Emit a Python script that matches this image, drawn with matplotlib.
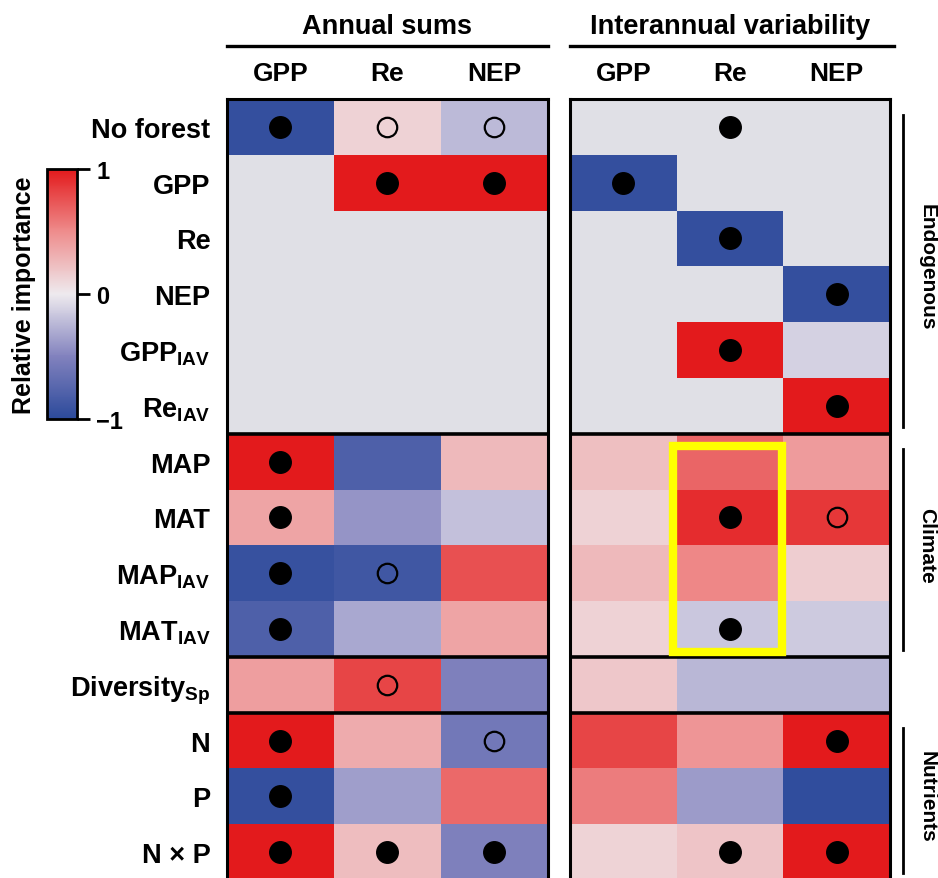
import numpy as np
import matplotlib.pyplot as plt
from matplotlib.colors import LinearSegmentedColormap
from matplotlib.patches import Rectangle
from matplotlib.lines import Line2D
from matplotlib.transforms import blended_transform_factory

plt.rcParams['font.family'] = ['Liberation Sans', 'DejaVu Sans']
plt.rcParams['mathtext.fontset'] = 'custom'
plt.rcParams['mathtext.rm'] = 'Liberation Sans'
plt.rcParams['mathtext.bf'] = 'Liberation Sans:bold'

# predictors (rows) and response fluxes (columns)
predictors = ['No forest', 'GPP', 'Re', 'NEP', r'GPP$_{\mathbf{IAV}}$', r'Re$_{\mathbf{IAV}}$',
              'MAP', 'MAT', r'MAP$_{\mathbf{IAV}}$', r'MAT$_{\mathbf{IAV}}$',
              r'Diversity$_{\mathbf{Sp}}$', 'N', 'P', 'N × P']
fluxes = ['GPP', 'Re', 'NEP']

nan = np.nan
# relative importance, annual sums
annual = [
    [-0.95, 0.13, -0.23],
    [nan, 1.0, 1.0],
    [nan, nan, nan],
    [nan, nan, nan],
    [nan, nan, nan],
    [nan, nan, nan],
    [1.0, -0.8, 0.26],
    [0.37, -0.41, -0.2],
    [-0.93, -0.88, 0.76],
    [-0.8, -0.32, 0.37],
    [0.4, 0.81, -0.52],
    [1.0, 0.33, -0.59],
    [-0.95, -0.36, 0.65],
    [1.0, 0.24, -0.52],
]
# relative importance, interannual variability
interannual = [
    [nan, nan, nan],
    [-0.95, nan, nan],
    [nan, -0.95, nan],
    [nan, nan, -0.95],
    [nan, 1.0, -0.12],
    [nan, nan, 1.0],
    [0.23, 0.67, 0.42],
    [0.13, 0.92, 0.87],
    [0.26, 0.52, 0.15],
    [0.13, -0.17, -0.15],
    [0.18, -0.25, -0.25],
    [0.81, 0.45, 1.0],
    [0.57, -0.38, -0.97],
    [0.12, 0.2, 1.0],
]
# 2 = significant (filled), 1 = marginal (open), 0 = none
annual_sig = [
    [2, 1, 1], [0, 2, 2], [0, 0, 0], [0, 0, 0], [0, 0, 0], [0, 0, 0],
    [2, 0, 0], [2, 0, 0], [2, 1, 0], [2, 0, 0],
    [0, 1, 0],
    [2, 0, 1], [2, 0, 0], [2, 2, 2],
]
interannual_sig = [
    [0, 2, 0], [2, 0, 0], [0, 2, 0], [0, 0, 2], [0, 2, 0], [0, 0, 2],
    [0, 0, 0], [0, 2, 1], [0, 0, 0], [0, 2, 0],
    [0, 0, 0],
    [0, 0, 2], [0, 0, 0], [0, 2, 2],
]
groups = [('Endogenous', 0, 6), ('Climate', 6, 10), ('', 10, 11), ('Nutrients', 11, 14)]

cmap = LinearSegmentedColormap.from_list(
    'ri', [(0.0, '#2c4a9b'), (0.25, '#8282be'), (0.5, '#eeeaee'),
           (0.75, '#ee8c8c'), (1.0, '#e31a1c')])
cmap.set_bad('#e0e0e6')

fig = plt.figure(figsize=(9.38, 8.79), dpi=100)
ax_l = fig.add_axes([0.242, -0.0023, 0.3422, 0.8885])
ax_r = fig.add_axes([0.6077, -0.0023, 0.3412, 0.8885])

n_rows = len(predictors)
for ax, vals, sig in [(ax_l, annual, annual_sig), (ax_r, interannual, interannual_sig)]:
    data = np.ma.masked_invalid(np.array(vals, dtype=float))
    mesh = ax.pcolormesh(np.arange(4), np.arange(n_rows + 1), data, cmap=cmap, vmin=-1, vmax=1)
    sig = np.array(sig)
    rr, cc = np.where(sig == 2)
    ax.plot(cc + 0.5, rr + 0.5, 'o', ms=15.5, mfc='black', mec='black', ls='none')
    rr, cc = np.where(sig == 1)
    ax.plot(cc + 0.5, rr + 0.5, 'o', ms=14, mfc='none', mec='black', mew=1.6, ls='none')
    ax.set_xlim(0, 3)
    ax.set_ylim(n_rows, 0)
    for _, start, _ in groups[1:]:
        ax.axhline(start, color='black', lw=2.6)
    for sp in ax.spines.values():
        sp.set_linewidth(2.2)
    ax.xaxis.tick_top()
    ax.set_xticks(np.arange(3) + 0.5)
    ax.set_xticklabels(fluxes, fontsize=19, fontweight='bold')
    ax.tick_params(axis='x', length=0, pad=10)
    ax.set_yticks([])

ax_l.set_yticks(np.arange(n_rows) + 0.5)
ax_l.set_yticklabels(predictors, fontsize=19.5, fontweight='bold')
ax_l.tick_params(axis='y', length=0, pad=12)

# highlight box around Re response to climate
ax_r.add_patch(Rectangle((0.965, 6.22), 1.025, 3.7, fill=False, ec='#ffff00', lw=6, zorder=5))

# group brackets on the right
tr = blended_transform_factory(ax_r.transAxes, ax_r.transData)
for name, start, end in groups:
    if not name:
        continue
    ax_r.add_line(Line2D([1.04, 1.04], [start + 0.28, end - 0.12], transform=tr,
                         color='black', lw=2, clip_on=False))
    ax_r.text(1.115, (start + end) / 2, name, transform=tr, rotation=-90,
              ha='center', va='center', fontsize=15, fontweight='bold')

# panel headers
for ax, title, x_ext in [(ax_l, 'Annual sums', 0.0), (ax_r, 'Interannual variability', 0.004)]:
    pos = ax.get_position()
    fig.text((pos.x0 + pos.x1) / 2, 0.969, title, ha='center', va='center',
             fontsize=19.5, fontweight='bold')
    fig.add_artist(Line2D([pos.x0, pos.x1 + x_ext], [0.9465, 0.9465], color='black', lw=2.4))

# colour bar
cax = fig.add_axes([0.050, 0.5222, 0.032, 0.2845])
cb = fig.colorbar(mesh, cax=cax, ticks=[-1, 0, 1])
cb.ax.set_yticklabels(['\u22121', '0', '1'], fontsize=17, fontweight='bold')
cb.ax.tick_params(length=9, width=2, pad=5)
cb.outline.set_linewidth(2)
fig.text(0.026, 0.664, 'Relative importance', rotation=90, ha='center', va='center',
         fontsize=18, fontweight='bold')

fig.savefig('out.png', dpi=100)
